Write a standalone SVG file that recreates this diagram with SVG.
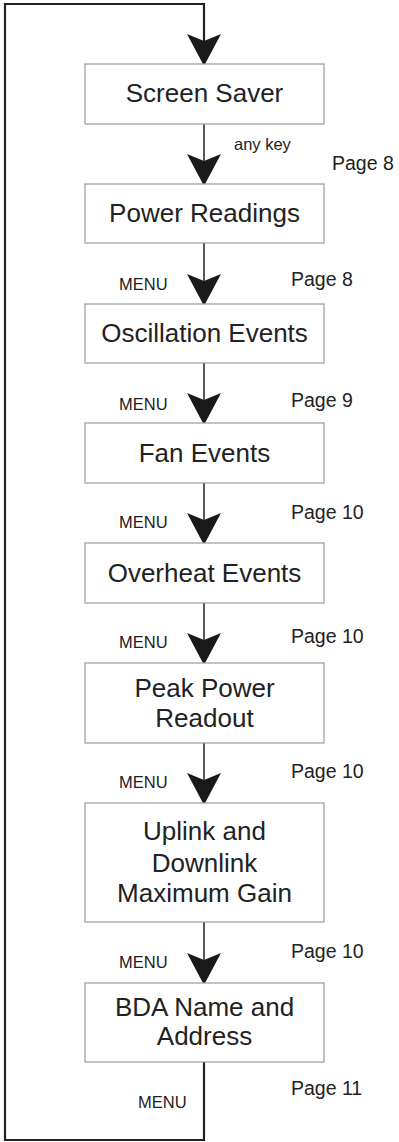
<svg xmlns="http://www.w3.org/2000/svg" width="399" height="1142" viewBox="0 0 399 1142">
<style>
.box{fill:#fff;stroke:#9a9a9a;stroke-width:1.2}
.t{font-family:"Liberation Sans",Arial,sans-serif;font-size:26px;fill:#222;text-anchor:middle}
.pg{font-family:"Liberation Sans",Arial,sans-serif;font-size:19.5px;fill:#222}
.lb{font-family:"Liberation Sans",Arial,sans-serif;font-size:16.5px;fill:#222}
.ln{fill:none;stroke:#222;stroke-width:1.5}
.loop{fill:none;stroke:#222;stroke-width:2.2}
</style>
<defs>
<marker id="ah" markerUnits="userSpaceOnUse" viewBox="0 -18 33 36" refX="30" refY="0" markerWidth="33" markerHeight="36" orient="auto">
<path d="M0,-17 L32,0 L0,17 L7,0 Z" fill="#1a1a1a"/>
</marker>
</defs>
<g id="connectors">
<path class="loop" d="M204,1062 L204,1140 L5,1140 L5,4 L204,4 L204,64" marker-end="url(#ah)"/>
<line class="ln" x1="204" y1="124" x2="204" y2="184" marker-end="url(#ah)"/>
<line class="ln" x1="204" y1="243" x2="204" y2="304" marker-end="url(#ah)"/>
<line class="ln" x1="204" y1="363" x2="204" y2="423" marker-end="url(#ah)"/>
<line class="ln" x1="204" y1="483" x2="204" y2="543" marker-end="url(#ah)"/>
<line class="ln" x1="204" y1="603" x2="204" y2="663" marker-end="url(#ah)"/>
<line class="ln" x1="204" y1="743" x2="204" y2="803" marker-end="url(#ah)"/>
<line class="ln" x1="204" y1="922" x2="204" y2="983" marker-end="url(#ah)"/>
<text class="lb" x="234" y="150">any key</text>
<text class="lb" x="119" y="290">MENU</text>
<text class="lb" x="119" y="410">MENU</text>
<text class="lb" x="119" y="528">MENU</text>
<text class="lb" x="119" y="648">MENU</text>
<text class="lb" x="119" y="788">MENU</text>
<text class="lb" x="119" y="968">MENU</text>
<text class="lb" x="138" y="1108">MENU</text>
<text class="pg" x="332" y="170">Page 8</text>
<text class="pg" x="291" y="286">Page 8</text>
<text class="pg" x="291" y="407">Page 9</text>
<text class="pg" x="291" y="519">Page 10</text>
<text class="pg" x="291" y="643">Page 10</text>
<text class="pg" x="291" y="778">Page 10</text>
<text class="pg" x="291" y="958">Page 10</text>
<text class="pg" x="291" y="1095">Page 11</text>
</g>
<g id="screen-saver"><rect class="box" x="85" y="64" width="239" height="60"/><text class="t" x="204.5" y="102">Screen Saver</text></g>
<g id="power-readings"><rect class="box" x="85" y="184" width="239" height="59"/><text class="t" x="204.5" y="222">Power Readings</text></g>
<g id="oscillation-events"><rect class="box" x="85" y="304" width="239" height="59"/><text class="t" x="204.5" y="342">Oscillation Events</text></g>
<g id="fan-events"><rect class="box" x="85" y="423" width="239" height="60"/><text class="t" x="204.5" y="462">Fan Events</text></g>
<g id="overheat-events"><rect class="box" x="85" y="543" width="239" height="60"/><text class="t" x="204.5" y="582">Overheat Events</text></g>
<g id="peak-power"><rect class="box" x="85" y="663" width="239" height="80"/><text class="t" x="204.5" y="697">Peak Power</text><text class="t" x="204.5" y="727">Readout</text></g>
<g id="max-gain"><rect class="box" x="85" y="803" width="239" height="119"/><text class="t" x="204.5" y="840">Uplink and</text><text class="t" x="204.5" y="872">Downlink</text><text class="t" x="204.5" y="902">Maximum Gain</text></g>
<g id="bda-name"><rect class="box" x="85" y="983" width="239" height="79"/><text class="t" x="204.5" y="1016">BDA Name and</text><text class="t" x="204.5" y="1045">Address</text></g>
</svg>
